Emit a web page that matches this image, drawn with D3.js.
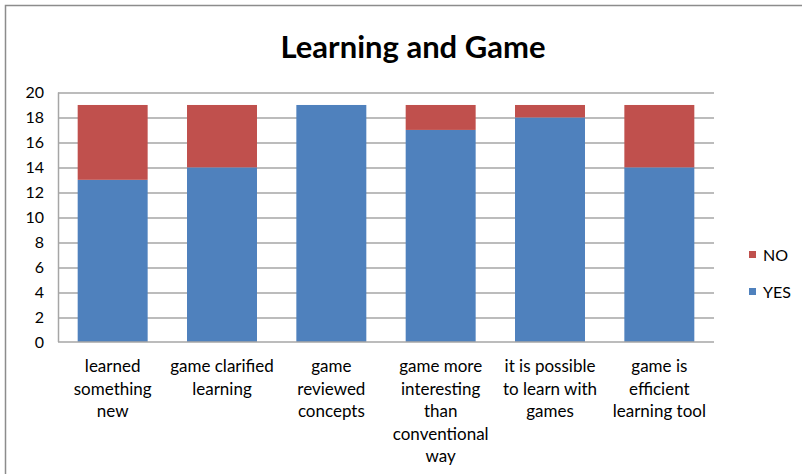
<!DOCTYPE html>
<html>
<head>
<meta charset="utf-8">
<script src="https://cdn.jsdelivr.net/npm/d3@7"></script>
<style>
  body { margin: 0; background: #fff; }
  text { font-family: Lato, "Open Sans", sans-serif; fill: #000; }
</style>
</head>
<body>
<div id="chart-area"></div>
<script>
let categories = [
  ["learned", "something", "new"],
  ["game clarified", "learning"],
  ["game", "reviewed", "concepts"],
  ["game more", "interesting", "than", "conventional", "way"],
  ["it is possible", "to learn with", "games"],
  ["game is", "efficient", "learning tool"]
]
let yesValues = [13, 14, 19, 17, 18, 14]
let noValues = [6, 5, 0, 2, 1, 5]
let yTicks = [0, 2, 4, 6, 8, 10, 12, 14, 16, 18, 20]
let seriesNames = ["NO", "YES"]
let seriesColors = { YES: "#4F81BD", NO: "#C0504D" }

let margin = { top: 92.5, left: 58, right: 88, bottom: 132 }
let width = 802, height = 474
let canvasWidth = width - margin.left - margin.right
let canvasHeight = height - margin.top - margin.bottom

let svg = d3.select("#chart-area").append("svg")
  .attr("width", width)
  .attr("height", height)

// outer chart border
svg.append("rect")
  .attr("x", 5.5).attr("y", 5.5)
  .attr("width", 900).attr("height", 600)
  .attr("fill", "none")
  .attr("stroke", "#8c8c8c")
  .attr("stroke-width", 1.5)

svg.append("text")
  .attr("x", 413).attr("y", 58)
  .attr("text-anchor", "middle")
  .style("font-size", "31px")
  .style("font-weight", "bold")
  .text("Learning and Game")

let g = svg.append("g")
  .attr("transform", "translate(" + margin.left + ", " + margin.top + ")")

let keys = categories.map((c, i) => i)
let rows = keys.map(i => ({ key: i, YES: yesValues[i], NO: noValues[i] }))

let x = d3.scaleBand()
  .domain(keys)
  .range([0, canvasWidth])
  .paddingInner(0.36)
  .paddingOuter(0.18)

let y = d3.scaleLinear()
  .domain([0, 20])
  .range([canvasHeight, 0])

// gridlines
g.selectAll(".grid")
  .data(yTicks.slice(1))
  .enter().append("line")
    .attr("x1", 0).attr("x2", canvasWidth)
    .attr("y1", d => Math.round(y(d)) + 0.5)
    .attr("y2", d => Math.round(y(d)) + 0.5)
    .attr("stroke", "#a6a6a6")
    .attr("stroke-width", 1.5)

let stack = d3.stack().keys(["YES", "NO"])(rows)

g.selectAll(".series")
  .data(stack)
  .enter().append("g")
    .attr("fill", d => seriesColors[d.key])
  .selectAll("rect")
  .data(d => d)
  .enter().append("rect")
    .attr("x", d => x(d.data.key))
    .attr("width", x.bandwidth())
    .attr("y", d => y(d[1]))
    .attr("height", d => y(d[0]) - y(d[1]))

// axes lines
g.append("line")
  .attr("x1", 0.5).attr("x2", 0.5)
  .attr("y1", 0).attr("y2", canvasHeight)
  .attr("stroke", "#a6a6a6").attr("stroke-width", 1.5)
g.append("line")
  .attr("x1", 0).attr("x2", canvasWidth)
  .attr("y1", canvasHeight).attr("y2", canvasHeight)
  .attr("stroke", "#a6a6a6").attr("stroke-width", 1.5)

// y tick labels
g.selectAll(".ytick")
  .data(yTicks)
  .enter().append("text")
    .attr("x", -14)
    .attr("y", d => y(d))
    .attr("dy", "0.35em")
    .attr("text-anchor", "end")
    .style("font-size", "16px")
    .text(d => d)

// category labels
let labels = g.selectAll(".xlabel")
  .data(keys)
  .enter().append("text")
    .attr("text-anchor", "middle")
    .style("font-size", "17px")
    .attr("transform", d => "translate(" + (x(d) + x.bandwidth() / 2) + ", " + (canvasHeight + 30) + ")")

labels.selectAll("tspan")
  .data(d => categories[d])
  .enter().append("tspan")
    .attr("x", 0)
    .attr("y", (d, i) => i * 22.5)
    .text(d => d)

// legend
let legend = svg.selectAll(".legend")
  .data(seriesNames)
  .enter().append("g")
    .attr("transform", (d, i) => "translate(749, " + (251 + i * 37) + ")")

legend.append("rect")
  .attr("width", 7).attr("height", 7)
  .attr("fill", d => seriesColors[d])

legend.append("text")
  .attr("x", 14).attr("y", 4)
  .attr("dy", "0.35em")
  .style("font-size", "16px")
  .text(d => d)
</script>
</body>
</html>
